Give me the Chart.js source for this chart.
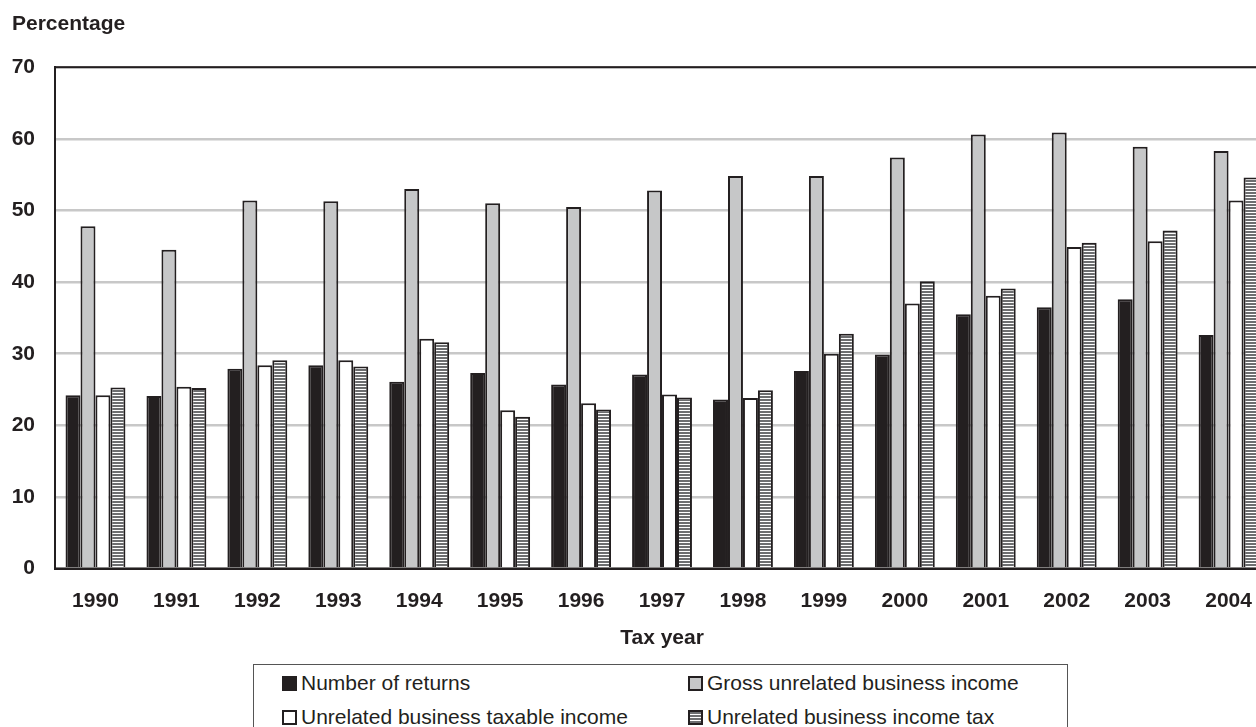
<!DOCTYPE html>
<html>
<head>
<meta charset="utf-8">
<script src="https://cdn.jsdelivr.net/npm/chart.js@4.4.1/dist/chart.umd.min.js"></script>
<style>
    html, body { margin: 0; padding: 0; background: #fff; overflow: hidden; }
    #wrap { position: relative; width: 1256px; height: 727px; overflow: hidden; }
    #chart-box { position: absolute; left: 0; top: 0; width: 1272px; height: 653px; }
    #legend {
        position: absolute; left: 253px; top: 664px; width: 815px; height: 90px;
        border: 1px solid #555; box-sizing: border-box; background: #fff;
        font-family: "Liberation Sans", Arial, sans-serif; font-size: 21px; color: #231f20;
    }
    .item { position: absolute; display: flex; align-items: center; height: 24px; white-space: nowrap; }
    .swatch { width: 11px; height: 11px; border: 2px solid #231f20; margin-right: 4px; }
</style>
</head>
<body>
<div id="wrap">
    <div id="chart-box"><canvas id="chart"></canvas></div>
    <div id="legend"></div>
</div>
<script>
// Dados
const years = ['1990', '1991', '1992', '1993', '1994', '1995', '1996', '1997', '1998', '1999', '2000', '2001', '2002', '2003', '2004'];
const numberOfReturns = [24.2, 24.1, 27.9, 28.4, 26.1, 27.3, 25.7, 27.1, 23.6, 27.6, 29.9, 35.5, 36.5, 37.6, 32.6];
const grossIncome = [47.8, 44.5, 51.4, 51.3, 53.0, 51.0, 50.5, 52.8, 54.8, 54.8, 57.4, 60.6, 60.9, 58.9, 58.3];
const taxableIncome = [24.2, 25.4, 28.4, 29.1, 32.1, 22.1, 23.1, 24.3, 23.8, 30.0, 37.0, 38.1, 44.9, 45.7, 51.4];
const incomeTax = [25.3, 25.2, 29.1, 28.2, 31.6, 21.2, 22.2, 23.9, 24.9, 32.8, 40.1, 39.1, 45.5, 47.2, 54.6];
const yTicks = [0, 10, 20, 30, 40, 50, 60, 70];

const dark = '#231f20';

/**
 * Cria o padrão listrado (horizontal) da última série
 */
function makeStripes() {
    const c = document.createElement('canvas');
    c.width = 4;
    c.height = 3;
    const g = c.getContext('2d');
    g.fillStyle = '#ffffff';
    g.fillRect(0, 0, 4, 3);
    g.fillStyle = '#6d6e70';
    g.fillRect(0, 0, 4, 2);
    return g.createPattern(c, 'repeat');
}
const stripes = makeStripes();

const series = [
    { label: 'Number of returns', data: numberOfReturns, fill: dark, css: dark },
    { label: 'Gross unrelated business income', data: grossIncome, fill: '#c6c7c8', css: '#c6c7c8' },
    { label: 'Unrelated business taxable income', data: taxableIncome, fill: '#ffffff', css: '#ffffff' },
    { label: 'Unrelated business income tax', data: incomeTax, fill: stripes,
      css: 'repeating-linear-gradient(#6d6e70 0 2px, #fff 2px 3px)' }
];

// Moldura do plot (linha superior e direita)
const framePlugin = {
    id: 'frame',
    afterDatasetsDraw(chart) {
        const a = chart.chartArea;
        const ctx = chart.ctx;
        ctx.save();
        ctx.strokeStyle = dark;
        ctx.lineWidth = 2;
        ctx.strokeRect(a.left, a.top, a.right - a.left, a.bottom - a.top);
        ctx.restore();
    }
};

const tickFont = { family: '"Liberation Sans", Arial, sans-serif', size: 21, weight: 'bold' };

new Chart(document.getElementById('chart'), {
    type: 'bar',
    data: {
        labels: years,
        datasets: series.map(s => ({
            label: s.label,
            data: s.data,
            backgroundColor: s.fill,
            borderColor: dark,
            borderWidth: 2,
            barPercentage: 1,
            categoryPercentage: 0.74
        }))
    },
    options: {
        responsive: true,
        maintainAspectRatio: false,
        animation: false,
        layout: { padding: { left: 12, right: 2, top: 0, bottom: 2 } },
        plugins: {
            legend: { display: false },
            tooltip: { enabled: false },
            title: {
                display: true,
                text: 'Percentage',
                align: 'start',
                color: dark,
                font: tickFont,
                padding: { top: 12, bottom: 30 }
            }
        },
        scales: {
            x: {
                grid: { display: false, drawTicks: false },
                border: { color: dark, width: 2 },
                ticks: { color: dark, font: tickFont, padding: 20, maxRotation: 0 },
                title: { display: true, text: 'Tax year', color: dark, font: tickFont, padding: { top: -8, bottom: 0 } }
            },
            y: {
                min: 0,
                max: 70,
                afterFit(scale) { scale.width = 43; },
                afterBuildTicks(scale) { scale.ticks = yTicks.map(v => ({ value: v })); },
                grid: { color: '#c8c8c8', lineWidth: 2.5, drawTicks: false },
                border: { color: dark, width: 2 },
                ticks: { color: dark, font: tickFont, padding: 20 }
            }
        }
    },
    plugins: [framePlugin]
});

// Legenda em HTML, duas colunas
const legend = document.getElementById('legend');
const spots = [[28, 6], [434, 6], [28, 40], [434, 40]];
series.forEach((s, i) => {
    const el = document.createElement('div');
    el.className = 'item';
    el.style.left = spots[i][0] + 'px';
    el.style.top = spots[i][1] + 'px';
    el.innerHTML = `<span class="swatch" style="background:${s.css}"></span><span>${s.label}</span>`;
    legend.appendChild(el);
});
</script>
</body>
</html>
